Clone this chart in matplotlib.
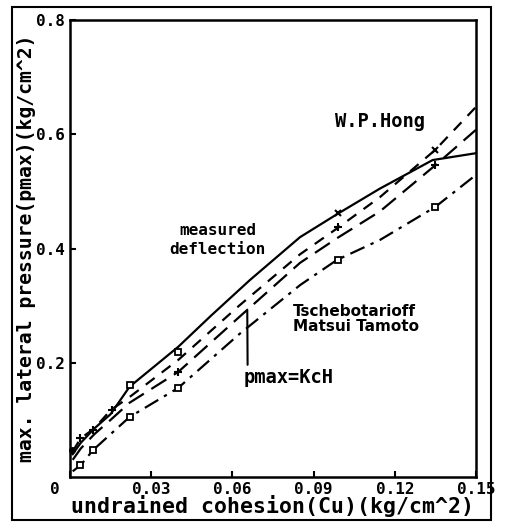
import numpy as np
import matplotlib
matplotlib.use("Agg")
import matplotlib.pyplot as plt
from matplotlib.patches import Rectangle
from matplotlib.transforms import ScaledTranslation

# values
cu_solid = [0.001, 0.004, 0.009, 0.015, 0.022, 0.04, 0.052, 0.0665, 0.085, 0.0986, 0.1145, 0.134, 0.15]
p_solid = [0.04, 0.06, 0.085, 0.11, 0.158, 0.228, 0.282, 0.345, 0.42, 0.46, 0.505, 0.555, 0.567]

cu_dash1 = [0.001, 0.004, 0.009, 0.015, 0.022, 0.04, 0.0625, 0.085, 0.0986, 0.1145, 0.135, 0.15]
p_dash1 = [0.045, 0.068, 0.085, 0.117, 0.14, 0.205, 0.3, 0.39, 0.435, 0.49, 0.573, 0.648]

cu_dash2 = [0.001, 0.004, 0.009, 0.015, 0.022, 0.04, 0.0625, 0.085, 0.0986, 0.1145, 0.135, 0.15]
p_dash2 = [0.03, 0.05, 0.075, 0.1, 0.13, 0.184, 0.28, 0.375, 0.418, 0.465, 0.546, 0.608]

cu_dashdot = [0.001, 0.004, 0.0085, 0.015, 0.022, 0.04, 0.0625, 0.085, 0.0986, 0.1145, 0.135, 0.15]
p_dashdot = [0.01, 0.021, 0.047, 0.075, 0.105, 0.156, 0.25, 0.336, 0.38, 0.415, 0.473, 0.529]

# measured points
sq_cu = [0.0037, 0.0085, 0.022, 0.022, 0.04, 0.04, 0.099, 0.135]
sq_p = [0.021, 0.047, 0.161, 0.105, 0.219, 0.156, 0.38, 0.473]
plus_cu = [0.0037, 0.0085, 0.0155, 0.04, 0.099, 0.135]
plus_p = [0.068, 0.082, 0.117, 0.184, 0.438, 0.546]
x_cu = [0.099, 0.135]
x_p = [0.462, 0.573]
dot_cu = [0.0007]
dot_p = [0.047]

xticks = [0, 0.03, 0.06, 0.09, 0.12, 0.15]
xticklabels = ["0", "0.03", "0.06", "0.09", "0.12", "0.15"]
yticks = [0.2, 0.4, 0.6, 0.8]
yticklabels = ["0.2", "0.4", "0.6", "0.8"]

mono = "DejaVu Sans Mono"

fig = plt.figure(figsize=(5.09, 5.30), dpi=100)
ax = fig.add_axes([0.1375, 0.1, 0.7976, 0.862])

lw = 1.6
ax.plot(cu_solid, p_solid, color="black", lw=lw)
ax.plot(cu_dash1, p_dash1, color="black", lw=lw, dashes=(5, 4))
ax.plot(cu_dash2, p_dash2, color="black", lw=lw, dashes=(8, 4))
ax.plot(cu_dashdot, p_dashdot, color="black", lw=lw, dashes=(7, 3, 1.5, 3))

ax.plot(sq_cu, sq_p, ls="none", marker="s", ms=5, mfc="white", mec="black", mew=1.3)
ax.plot(plus_cu, plus_p, ls="none", marker="+", ms=6, mec="black", mew=1.5)
ax.plot(x_cu, x_p, ls="none", marker="x", ms=5, mec="black", mew=1.5)
ax.plot(dot_cu, dot_p, ls="none", marker="o", ms=4, color="black", clip_on=False)

ax.set_xlim(0, 0.15)
ax.set_ylim(0, 0.8)
ax.set_xticks(xticks)
ax.set_xticklabels(xticklabels)
ax.set_yticks(yticks)
ax.set_yticklabels(yticklabels)
ax.tick_params(direction="in", length=4, width=1.5, labelsize=11.5)
for lab in ax.get_xticklabels() + ax.get_yticklabels():
    lab.set_family(mono)
    lab.set_weight("bold")
# the "0" sits left of the origin in the original
first = ax.get_xticklabels()[0]
first.set_transform(first.get_transform() + ScaledTranslation(-0.15, 0, fig.dpi_scale_trans))
for s in ax.spines.values():
    s.set_linewidth(1.8)

ax.set_xlabel("undrained cohesion(Cu)(kg/cm^2)", family=mono, weight="bold",
              fontsize=15.5, labelpad=-1)
ax.set_ylabel("max. lateral pressure(pmax)(kg/cm^2)", family=mono, weight="bold",
              fontsize=14.2, labelpad=0)

txt = dict(family=mono, weight="bold", fontsize=11.5)
ax.text(0.0545, 0.432, "measured", ha="center", va="center", **txt)
ax.text(0.0545, 0.398, "deflection", ha="center", va="center", **txt)
small = dict(family="DejaVu Sans", weight="bold", fontsize=11)
ax.text(0.0824, 0.290, "Tschebotarioff", ha="left", va="center", **small)
ax.text(0.0824, 0.263, "Matsui Tamoto", ha="left", va="center", **small)
ax.text(0.1145, 0.622, "W.P.Hong", ha="center", va="center", **dict(txt, fontsize=13.5))
ax.annotate("pmax=KcH", xy=(0.0655, 0.293), xytext=(0.0643, 0.175),
            ha="left", va="center",
            arrowprops=dict(arrowstyle="-", color="black", lw=1.5, relpos=(0.04, 1.0),
                            shrinkA=0, shrinkB=0),
            **dict(txt, fontsize=13.5))

fig.patches.append(Rectangle((12 / 509, 10 / 530), 479 / 509, 513 / 530,
                             transform=fig.transFigure, fill=False,
                             edgecolor="black", lw=1.5))

fig.savefig("out.png", dpi=100)
